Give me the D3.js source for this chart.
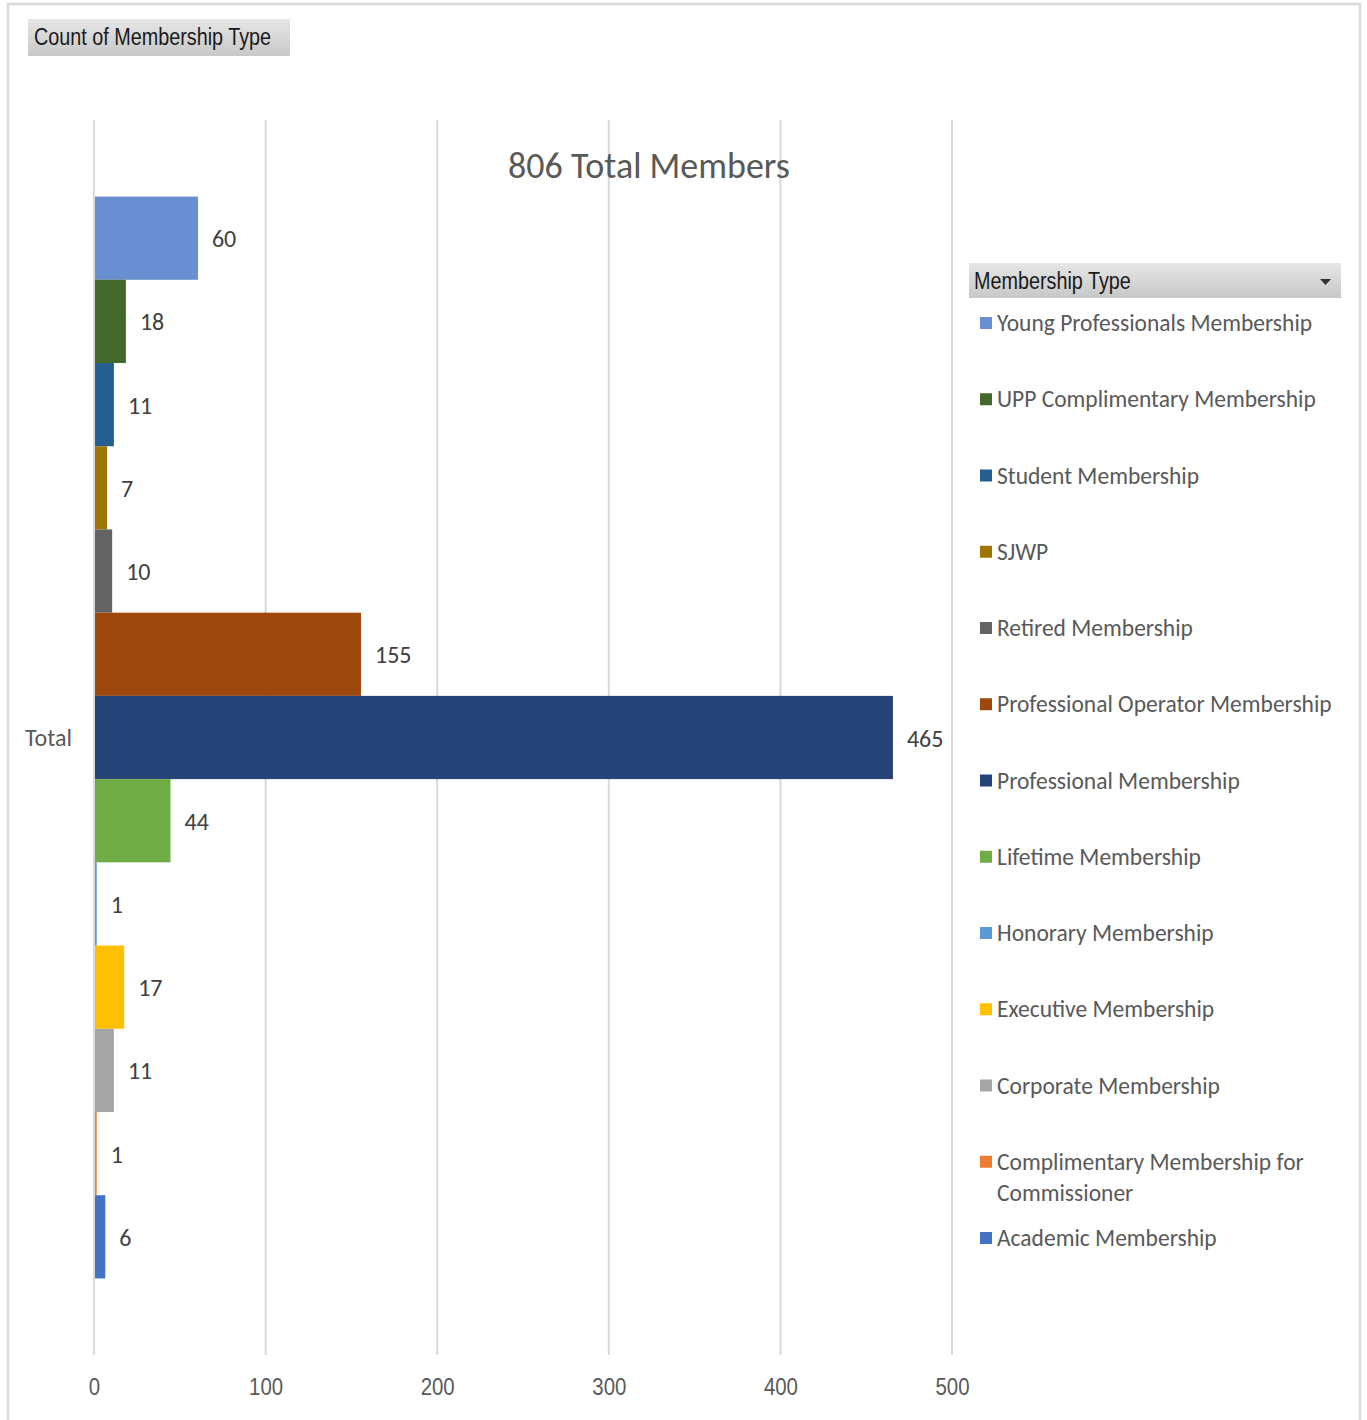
<!DOCTYPE html>
<html>
<head>
<meta charset="utf-8">
<script src="https://cdn.jsdelivr.net/npm/d3@7"></script>
<style>
  html, body { margin: 0; padding: 0; background: #fff; }
  svg { display: block; }
</style>
</head>
<body>
<svg id="chart" width="1367" height="1420"></svg>
<script>
const categories = ["Total"];
const seriesNames = [
  "Young Professionals Membership",
  "UPP Complimentary Membership",
  "Student Membership",
  "SJWP",
  "Retired Membership",
  "Professional Operator Membership",
  "Professional Membership",
  "Lifetime Membership",
  "Honorary Membership",
  "Executive Membership",
  "Corporate Membership",
  "Complimentary Membership for Commissioner",
  "Academic Membership"
];
const seriesValues = [60, 18, 11, 7, 10, 155, 465, 44, 1, 17, 11, 1, 6];
const seriesColors = ["#6a8fd0", "#43682b", "#255e91", "#9e7500", "#636363", "#9e480e",
  "#264478", "#70ad47", "#5b9bd5", "#ffc000", "#a5a5a5", "#ed7d31", "#4472c4"];
const xTicks = [0, 100, 200, 300, 400, 500];
const chartTitle = "806 Total Members";
const fieldButton = "Count of Membership Type";
const legendTitle = "Membership Type";

const FONT = "Carlito, Lato, 'Open Sans', sans-serif";
const NARROW = "'Liberation Sans', Arial, sans-serif";
const svg = d3.select("#chart");

function condense(sel, factor) {
  sel.each(function () {
    const w = this.getComputedTextLength();
    d3.select(this).attr("textLength", w * factor).attr("lengthAdjust", "spacingAndGlyphs");
  });
}

// gradient for pivot buttons
const defs = svg.append("defs");
const grad = defs.append("linearGradient").attr("id", "btnGrad").attr("x1", 0).attr("y1", 0).attr("x2", 0).attr("y2", 1);
grad.append("stop").attr("offset", "0%").attr("stop-color", "#e6e6e6");
grad.append("stop").attr("offset", "100%").attr("stop-color", "#c8c8c8");

// outer frame
svg.append("path")
  .attr("d", "M8,1420 V4 H1360 V1420")
  .attr("fill", "none").attr("stroke", "#d9d9d9").attr("stroke-width", 2.5);

// field button
svg.append("rect").attr("x", 28).attr("y", 19).attr("width", 262).attr("height", 37).attr("fill", "url(#btnGrad)");
svg.append("text").attr("x", 34).attr("y", 45).text(fieldButton)
  .attr("font-family", NARROW).attr("font-size", 23).attr("fill", "#1a1a1a")
  .call(condense, 0.86);

// scales
const x = d3.scaleLinear().domain([0, 500]).range([94, 952]);
const yCat = d3.scaleBand().domain(categories).range([120, 1355]);
const ySeries = d3.scaleBand().domain(seriesNames)
  .range([yCat("Total") + 0.062 * yCat.bandwidth(), yCat("Total") + 0.938 * yCat.bandwidth()])
  .padding(0);

// gridlines
svg.append("g").selectAll("line").data(xTicks).join("line")
  .attr("x1", d => x(d)).attr("x2", d => x(d))
  .attr("y1", 120).attr("y2", 1355)
  .attr("stroke", "#d9d9d9").attr("stroke-width", 2);

// x axis labels
const xAxis = d3.axisBottom(x).tickValues(xTicks).tickSize(0).tickPadding(0);
const gx = svg.append("g").attr("transform", "translate(0,1395)").call(xAxis);
gx.select(".domain").remove();
gx.selectAll("text").attr("font-family", NARROW).attr("font-size", 24).attr("fill", "#595959").attr("dy", 0)
  .call(condense, 0.85);

// category label
svg.append("text").attr("x", 72).attr("y", yCat("Total") + yCat.bandwidth() / 2 + 8)
  .attr("text-anchor", "end").text(categories[0])
  .attr("font-family", FONT).attr("font-size", 24).attr("fill", "#595959");

// title
svg.append("text").attr("x", 649).attr("y", 178).attr("text-anchor", "middle").text(chartTitle)
  .attr("font-family", FONT).attr("font-size", 36).attr("fill", "#595959");

// bars
const data = seriesNames.map((n, i) => ({ name: n, value: seriesValues[i], color: seriesColors[i] }));
svg.append("g").selectAll("rect").data(data).join("rect")
  .attr("x", x(0) + 1)
  .attr("y", d => ySeries(d.name))
  .attr("width", d => Math.max(1, x(d.value) - x(0)))
  .attr("height", ySeries.bandwidth())
  .attr("fill", d => d.color);

// data labels
svg.append("g").selectAll("text").data(data).join("text")
  .attr("x", d => x(d.value) + 15)
  .attr("y", d => ySeries(d.name) + ySeries.bandwidth() / 2 + 9)
  .text(d => d.value)
  .attr("font-family", FONT).attr("font-size", 24).attr("fill", "#404040");

// legend header
svg.append("rect").attr("x", 969).attr("y", 263).attr("width", 372).attr("height", 35).attr("fill", "url(#btnGrad)");
svg.append("text").attr("x", 974).attr("y", 289).text(legendTitle)
  .attr("font-family", NARROW).attr("font-size", 23).attr("fill", "#1a1a1a")
  .call(condense, 0.86);
svg.append("path").attr("d", "M1320,279 h11 l-5.5,6 z").attr("fill", "#333");

// legend items
const legendY = d3.scaleLinear().domain([0, seriesNames.length - 1]).range([323, 1238]);
const lg = svg.append("g").selectAll("g").data(data).join("g")
  .attr("transform", (d, i) => `translate(0,${legendY(i)})`);
lg.append("rect").attr("x", 980).attr("y", -6).attr("width", 12).attr("height", 12).attr("fill", d => d.color);
lg.append("text").attr("x", 997).attr("y", 8)
  .attr("font-family", FONT).attr("font-size", 23.5).attr("fill", "#595959")
  .each(function (d) {
    const t = d3.select(this);
    if (d.name === "Complimentary Membership for Commissioner") {
      t.append("tspan").attr("x", 997).attr("dy", 0).text("Complimentary Membership for");
      t.append("tspan").attr("x", 997).attr("dy", 31).text("Commissioner");
    } else {
      t.text(d.name);
    }
  });
</script>
</body>
</html>
